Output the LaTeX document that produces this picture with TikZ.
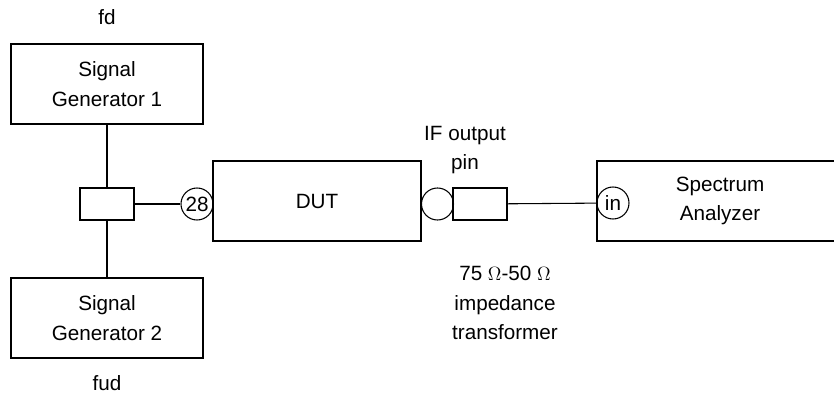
\documentclass[tikz,border=0pt]{standalone}
\usepackage{fontspec}
\setmainfont{Liberation Sans}
\usetikzlibrary{positioning}

\begin{document}
\begin{tikzpicture}[x=0.75pt,y=-0.75pt,
        every node/.style={font=\fontsize{15.5}{22}\selectfont, align=center},
        unit/.style={draw, line width=0.8pt, inner sep=0pt},
        port/.style={draw, circle, line width=0.8pt, minimum size=24pt, inner sep=0pt}]
        \useasboundingbox (0,0) rectangle (834,399);
        \clip (0,0) rectangle (834,399);

        \coordinate (cGenOnePt) at (107,84);
        \coordinate (cGenTwoPt) at (107,318);
        \coordinate (cCombPt) at (107,204);
        \coordinate (cDutPt) at (317,201);
        \coordinate (cTransPt) at (480,204);
        \coordinate (cSpecPt) at (720,201);

        \node[unit, minimum width=144pt, minimum height=60pt] (nGenOne) at (cGenOnePt) {Signal\\Generator 1};
        \node[unit, minimum width=144pt, minimum height=60pt] (nGenTwo) at (cGenTwoPt) {Signal\\Generator 2};
        \node[unit, minimum width=40.5pt, minimum height=24pt] (nComb) at (cCombPt) {};
        \node[unit, minimum width=156pt, minimum height=60pt] (nDut) at (cDutPt) {DUT};
        \node[port] (nPortRf) at (197,204) {28};
        \node[port] (nPortIf) at (437.5,204) {};
        \node[unit, minimum width=40.5pt, minimum height=24pt] (nTrans) at (cTransPt) {};
        \node[unit, minimum width=184.5pt, minimum height=60pt] (nSpec) at (cSpecPt) {Spectrum\\Analyzer};
        \node[port] (nPortIn) at (613,203) {in};

        \draw[line width=0.8pt] (nGenOne) -- (nComb);
        \draw[line width=0.8pt] (nComb) -- (nGenTwo);
        \draw[line width=0.8pt] (nComb) -- (nPortRf);
        \draw[line width=0.8pt] (nTrans) -- (nPortIn);

        \node (nFd) at (107,17) {fd};
        \node (nFud) at (107,383) {fud};
        \node (nIfLabel) at (465,150) {IF output\\pin};
        \node (nTransLabel) at (505,303) {75 $\Omega$-50 $\Omega$\\impedance\\transformer};
\end{tikzpicture}
\end{document}
